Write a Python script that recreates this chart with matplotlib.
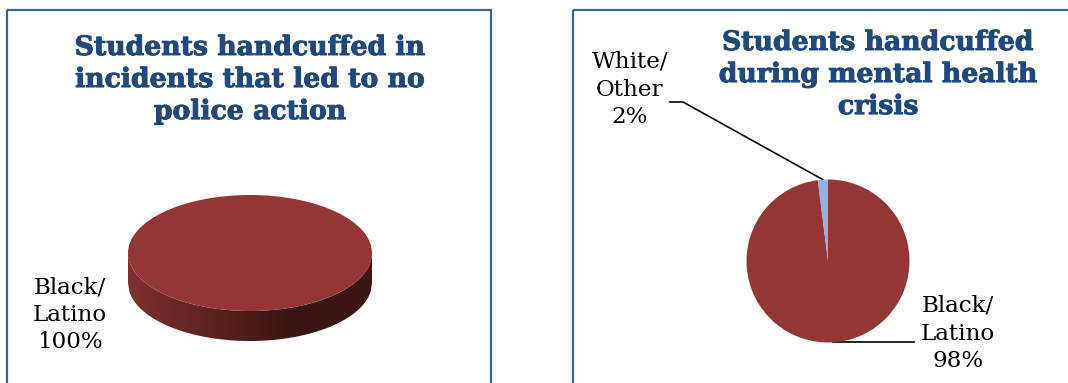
import numpy as np
import matplotlib
matplotlib.use("Agg")
import matplotlib.pyplot as plt
import matplotlib.patheffects as pe
from matplotlib.patches import Rectangle, Polygon

# data
left_title = "Students handcuffed in\nincidents that led to no\npolice action"
left_labels = ["Black/\nLatino"]
left_values = [100]

right_title = "Students handcuffed\nduring mental health\ncrisis"
right_labels = ["Black/\nLatino", "White/\nOther"]
right_values = [98, 2]

red = "#943634"
blue = "#8DB4E2"
title_blue = "#1F497D"
border = "#3B6096"

W, H = 1068, 383
fig = plt.figure(figsize=(W / 100, H / 100), dpi=100)

# overlay axes in pixel coordinates (y down)
ov = fig.add_axes([0, 0, 1, 1])
ov.set_xlim(0, W)
ov.set_ylim(H, 0)
ov.axis("off")
ov.patch.set_alpha(0)

ov.add_patch(Rectangle((7, 10), 484, 380, fill=False, ec=border, lw=1.6))
ov.add_patch(Rectangle((573, 10), 520, 380, fill=False, ec=border, lw=1.6))


def px_axes(x0, y0, w, h):
    # axes placed by pixel box (top-left origin)
    return fig.add_axes([x0 / W, 1 - (y0 + h) / H, w / W, h / H])


tfont = dict(family="DejaVu Serif", weight="bold", color=title_blue,
             fontsize=19.2, ha="center", va="top", linespacing=1.24,
             path_effects=[pe.withStroke(linewidth=0.7, foreground=title_blue)])
lfont = dict(family="DejaVu Serif", color="black", fontsize=16.6,
             ha="center", va="top", linespacing=1.33)

ov.text(250, 34, left_title, **tfont)
ov.text(878, 29, right_title, **tfont)

# ---- left: 3D looking pie ----
cx, cy, rx, ry, depth = 250, 253, 122, 58, 30
ax1 = px_axes(100, 170, 300, 200)
ax1.pie(left_values, colors=[red], radius=1, startangle=90,
        wedgeprops=dict(linewidth=0))
ax1.set_aspect("auto")
ax1.axis("off")
d = depth / ry
xs = np.linspace(-1, 1, 200)
upper = -np.sqrt(1 - xs ** 2)
lower = upper - d
side = np.concatenate([np.column_stack([xs, upper]),
                       np.column_stack([xs[::-1], lower[::-1]]),
                       [[-1, 0]]])
poly = Polygon(side, closed=True, fc="none", ec="none")
ax1.add_patch(poly)
grad = np.linspace(0, 1, 256)[None, :]
cmap = matplotlib.colors.LinearSegmentedColormap.from_list(
    "side", ["#80302E", "#5E2220", "#3A1513", "#3E1715"])
im = ax1.imshow(grad, extent=[-1, 1, -1 - d, 0], cmap=cmap,
                aspect="auto", zorder=0.5)
im.set_clip_path(poly)
ax1.set_xlim(-150 / rx, 150 / rx)
ax1.set_ylim(-117 / ry, 83 / ry)

ov.text(70, 276, left_labels[0] + "\n" + f"{left_values[0]}%", **lfont)

# ---- right: flat pie ----
r = 81.5
ax2 = px_axes(728, 161, 200, 200)
wedges, _ = ax2.pie(right_values, colors=[red, blue], radius=1,
                    startangle=90, counterclock=False,
                    wedgeprops=dict(linewidth=0))
ax2.set_xlim(-100 / r, 100 / r)
ax2.set_ylim(-100 / r, 100 / r)
ax2.axis("off")

fig.canvas.draw()


def anchor(w):
    a = np.deg2rad((w.theta1 + w.theta2) / 2)
    p = ax2.transData.transform((np.cos(a), np.sin(a)))
    return p[0], H - p[1]


ax_, ay_ = anchor(wedges[1])
ov.plot([670, 683, ax_, ], [102, 102, ay_], color="black", lw=1.2)
ov.text(630, 51, right_labels[1] + "\n" + f"{right_values[1]}%", **lfont)

bx, by = anchor(wedges[0])
ov.plot([bx, 914], [by, by], color="black", lw=1.2)
ov.text(958, 295, right_labels[0] + "\n" + f"{right_values[0]}%", **lfont)

fig.savefig("out.png", dpi=100)
